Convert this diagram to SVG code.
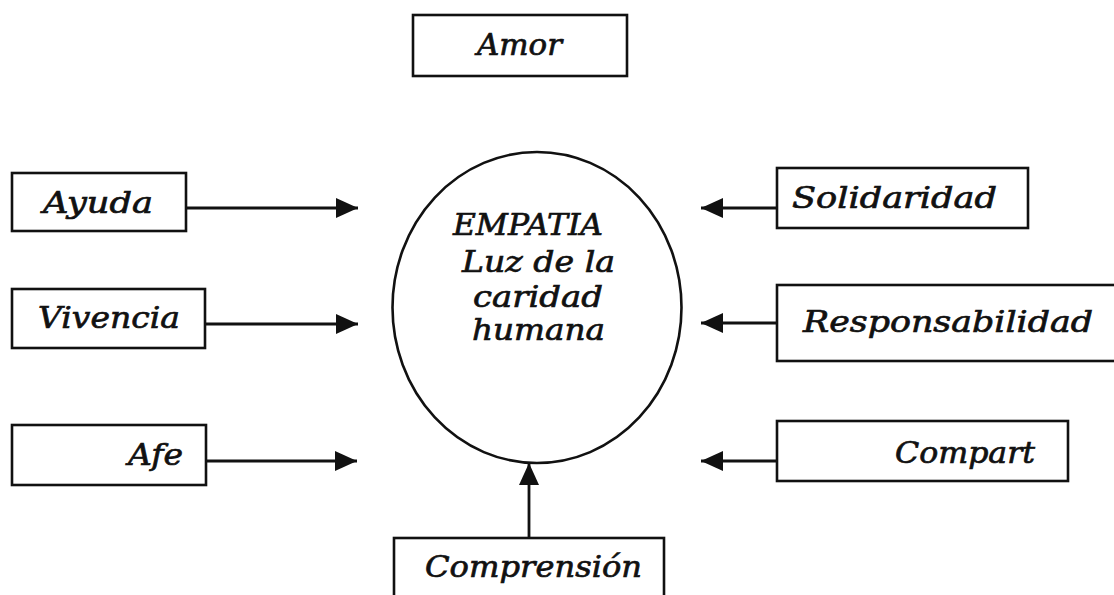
<svg xmlns="http://www.w3.org/2000/svg" width="1114" height="595" viewBox="0 0 1114 595">
<style>
.box{fill:#fff;stroke:#111;stroke-width:2.6}
.lbl{font-family:"DejaVu Serif","Liberation Serif",serif;font-style:italic;font-size:30px;fill:#111;stroke:#111;stroke-width:0.7}
.conn{stroke:#111;stroke-width:2.8;fill:none}
</style>
<defs>
<marker id="ah" markerUnits="userSpaceOnUse" markerWidth="23" markerHeight="22" refX="22" refY="10" orient="auto" viewBox="0 0 23 22">
<path d="M0,0 L22,10 L0,20 z" fill="#111"/>
</marker>
</defs>
<rect width="1114" height="595" fill="#fff"/>
<g id="connectors">
<line class="conn" x1="186" y1="208" x2="358" y2="208" marker-end="url(#ah)"/>
<line class="conn" x1="205" y1="324" x2="358" y2="324" marker-end="url(#ah)"/>
<line class="conn" x1="206" y1="461" x2="357" y2="461" marker-end="url(#ah)"/>
<line class="conn" x1="777" y1="208" x2="701" y2="208" marker-end="url(#ah)"/>
<line class="conn" x1="777" y1="323" x2="701" y2="323" marker-end="url(#ah)"/>
<line class="conn" x1="777" y1="461" x2="701" y2="461" marker-end="url(#ah)"/>
<line class="conn" x1="529" y1="538" x2="529" y2="463" marker-end="url(#ah)"/>
</g>
<g id="amor"><rect class="box" x="413" y="15" width="214" height="61"/><text class="lbl" x="477" y="55" textLength="85" lengthAdjust="spacingAndGlyphs">Amor</text></g>
<g id="empatia">
<ellipse cx="537" cy="307.5" rx="144.5" ry="155.5" fill="none" stroke="#111" stroke-width="2.6"/>
<text class="lbl" x="453" y="235" textLength="150" lengthAdjust="spacingAndGlyphs">EMPATIA</text>
<text class="lbl" x="462" y="272" textLength="153" lengthAdjust="spacingAndGlyphs">Luz de la</text>
<text class="lbl" x="473" y="307" textLength="130" lengthAdjust="spacingAndGlyphs">caridad</text>
<text class="lbl" x="472" y="340" textLength="133" lengthAdjust="spacingAndGlyphs">humana</text>
</g>
<g id="ayuda"><rect class="box" x="12" y="173" width="174" height="58"/><text class="lbl" x="43" y="213" textLength="110" lengthAdjust="spacingAndGlyphs">Ayuda</text></g>
<g id="vivencia"><rect class="box" x="12" y="289" width="193" height="59"/><text class="lbl" x="38" y="328" textLength="142" lengthAdjust="spacingAndGlyphs">Vivencia</text></g>
<g id="afe"><rect class="box" x="12" y="425" width="194" height="60"/><text class="lbl" x="128" y="465" textLength="55" lengthAdjust="spacingAndGlyphs">Afe</text></g>
<g id="solidaridad"><rect class="box" x="777" y="168" width="251" height="60"/><text class="lbl" x="792" y="208" textLength="205" lengthAdjust="spacingAndGlyphs">Solidaridad</text></g>
<g id="responsabilidad"><rect class="box" x="777" y="285" width="340" height="76"/><text class="lbl" x="803" y="332" textLength="290" lengthAdjust="spacingAndGlyphs">Responsabilidad</text></g>
<g id="compart"><rect class="box" x="777" y="421" width="291" height="60"/><text class="lbl" x="895" y="463" textLength="140" lengthAdjust="spacingAndGlyphs">Compart</text></g>
<g id="comprension"><rect class="box" x="394" y="538" width="270" height="70"/><text class="lbl" x="425" y="577" textLength="217" lengthAdjust="spacingAndGlyphs">Comprensión</text></g>
</svg>
